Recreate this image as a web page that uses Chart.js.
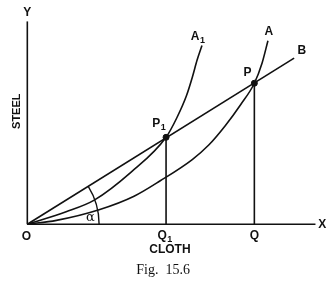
<!DOCTYPE html>
<html>
<head>
<meta charset="utf-8">
<script src="https://cdn.jsdelivr.net/npm/chart.js@4.4.0/dist/chart.umd.min.js"></script>
<style>
  html, body { margin: 0; padding: 0; background: #fff; }
  canvas { display: block; }
</style>
</head>
<body>
<canvas id="fig" width="336" height="292"></canvas>
<script>
// Curva A1 (más inclinada)
const curveA1 = [
    { x: 0, y: 0 }, { x: 40, y: 13 }, { x: 69, y: 25 }, { x: 107, y: 54 },
    { x: 143, y: 90 }, { x: 154, y: 110 }, { x: 164, y: 133 },
    { x: 170, y: 152 }, { x: 175, y: 170 }, { x: 180, y: 185 }
];

// Curva A
const curveA = [
    { x: 0, y: 0 }, { x: 30, y: 4 }, { x: 74, y: 15 }, { x: 110, y: 29 },
    { x: 137, y: 45 }, { x: 170, y: 67 }, { x: 187, y: 82 }, { x: 204, y: 102 },
    { x: 220, y: 124 }, { x: 234, y: 146 }, { x: 242, y: 167 }, { x: 248, y: 190 }
];

// Recta OB
const lineOB = [{ x: 0, y: 0 }, { x: 275, y: 172 }];

// Puntos de equilibrio
const pointP1 = { x: 143, y: 90 };
const pointP = { x: 234, y: 146 };

// Ejes
const axisY = [{ x: 0, y: 0 }, { x: 0, y: 210 }];
const axisX = [{ x: 0, y: 0 }, { x: 297, y: 0 }];

// Radio del arco alfa
const arcRadius = 74;

// Etiquetas de texto
const labels = [
    { text: 'Y', x: 0, y: 219 },
    { text: 'X', x: 304, y: 0 },
    { text: 'O', x: -1, y: -13 },
    { text: 'P', sub: '1', x: 136, y: 104 },
    { text: 'P', x: 227, y: 157 },
    { text: 'A', sub: '1', x: 176, y: 194 },
    { text: 'A', x: 249, y: 199 },
    { text: 'B', x: 283, y: 180 },
    { text: 'Q', sub: '1', x: 142, y: -12 },
    { text: 'Q', x: 234, y: -12 },
    { text: 'CLOTH', x: 147, y: -26 }
];

const black = '#111';

function lineSet(data, width) {
    return {
        data: data,
        showLine: true,
        borderColor: black,
        borderWidth: width,
        pointRadius: 0,
        fill: false,
        tension: 0
    };
}

const curveSet = (data) => Object.assign(lineSet(data, 1.6), { cubicInterpolationMode: 'monotone' });

// Plugin para dibujar textos, arco y título
const annotations = {
    id: 'annotations',
    afterDatasetsDraw(chart) {
        const ctx = chart.ctx;
        const xs = chart.scales.x;
        const ys = chart.scales.y;
        const px = v => xs.getPixelForValue(v);
        const py = v => ys.getPixelForValue(v);

        // arco alfa entre el eje X y la recta OB
        const ox = px(0), oy = py(0);
        const r = px(arcRadius) - ox;
        const end = lineOB[1];
        const ang = Math.atan2(py(end.y) - oy, px(end.x) - ox);
        ctx.save();
        ctx.strokeStyle = black;
        ctx.lineWidth = 1.4;
        ctx.beginPath();
        ctx.arc(ox, oy, r, ang, 0);
        ctx.stroke();

        ctx.fillStyle = black;
        ctx.textAlign = 'center';
        ctx.textBaseline = 'middle';
        labels.forEach(l => {
            ctx.font = 'bold 12px "Liberation Sans", Arial, sans-serif';
            const x = px(l.x), y = py(l.y);
            if (l.sub) {
                const w = ctx.measureText(l.text).width;
                ctx.fillText(l.text, x - 3, y);
                ctx.font = 'bold 9px "Liberation Sans", Arial, sans-serif';
                ctx.fillText(l.sub, x - 3 + w / 2 + 3, y + 4);
            } else {
                ctx.fillText(l.text, x, y);
            }
        });

        ctx.font = '13px "DejaVu Serif", serif';
        ctx.fillText('α', px(65), py(7));

        ctx.font = 'bold 11px "Liberation Sans", Arial, sans-serif';
        ctx.save();
        ctx.translate(px(-11), py(117));
        ctx.rotate(-Math.PI / 2);
        ctx.fillText('STEEL', 0, 0);
        ctx.restore();

        ctx.font = '14px "Liberation Serif", "Times New Roman", serif';
        ctx.fillText('Fig.  15.6', px(140), py(-48));
        ctx.restore();
    }
};

new Chart(document.getElementById('fig'), {
    type: 'scatter',
    data: {
        datasets: [
            lineSet(axisY, 1.6),
            lineSet(axisX, 1.6),
            lineSet(lineOB, 1.6),
            curveSet(curveA1),
            curveSet(curveA),
            lineSet([{ x: pointP1.x, y: 0 }, pointP1], 1.6),
            lineSet([{ x: pointP.x, y: 0 }, pointP], 1.6),
            {
                data: [pointP1, pointP],
                pointRadius: 3,
                pointBackgroundColor: black,
                pointBorderColor: black,
                showLine: false
            }
        ]
    },
    options: {
        responsive: false,
        animation: false,
        devicePixelRatio: 1,
        layout: { padding: 0 },
        plugins: { legend: { display: false }, tooltip: { enabled: false } },
        scales: {
            x: { type: 'linear', display: false, min: -23, max: 313 },
            y: { type: 'linear', display: false, min: -65, max: 227 }
        }
    },
    plugins: [annotations]
});
</script>
</body>
</html>
